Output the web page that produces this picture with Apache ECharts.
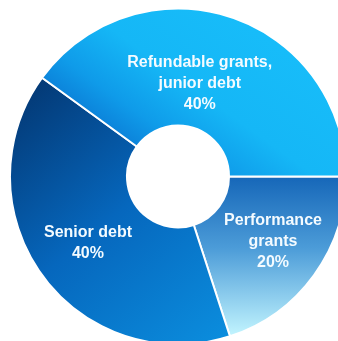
<!DOCTYPE html>
<html>
<head>
<meta charset="utf-8">
<script src="https://cdn.jsdelivr.net/npm/echarts@6/dist/echarts.min.js"></script>
<style>
html,body{margin:0;padding:0;background:#fff;}
#c{width:338px;height:341px;}
</style>
</head>
<body>
<div id="c"></div>
<script>
const categories = ['Performance\ngrants', 'Senior debt', 'Refundable grants,\njunior debt'];
const values = [20, 40, 40];
const labelTexts = ['20%', '40%', '40%'];

const fills = [
  {type:'linear', x:0, y:0, x2:0, y2:1, colorStops:[
    {offset:0, color:'#1566b8'}, {offset:0.45, color:'#4c9cd8'}, {offset:1, color:'#c4f6ff'}]},
  {type:'linear', x:0, y:0, x2:1, y2:1, colorStops:[
    {offset:0, color:'#03336c'}, {offset:0.5, color:'#0667bd'}, {offset:1, color:'#0b8fdf'}]},
  {type:'linear', x:0.2, y:1, x2:0.6, y2:0, colorStops:[
    {offset:0, color:'#075fc4'}, {offset:0.35, color:'#0f9be9'}, {offset:0.6, color:'#15b7f6'}, {offset:1, color:'#17bcf9'}]}
];
const offsets = [[4, -1], [1, 0], [-13, 14]];

const chart = echarts.init(document.getElementById('c'), null, {renderer:'canvas'});
chart.setOption({
  animation: false,
  series: [{
    type: 'pie',
    center: [178, 176.5],
    radius: [51, 168],
    startAngle: 0,
    clockwise: true,
    avoidLabelOverlap: false,
    label: {
      show: true,
      position: 'inside',
      color: '#f4fbff',
      fontFamily: '"Liberation Sans", Arial, sans-serif',
      fontWeight: 'bold',
      fontSize: 16,
      lineHeight: 21,
      align: 'center'
    },
    labelLine: {show: false},
    emphasis: {disabled: true},
    data: categories.map((name, i) => ({
      name: name,
      value: values[i],
      itemStyle: {color: fills[i], borderColor: '#ffffff', borderWidth: 2},
      label: {formatter: name + '\n' + labelTexts[i], offset: offsets[i]}
    }))
  }]
});
</script>
</body>
</html>
